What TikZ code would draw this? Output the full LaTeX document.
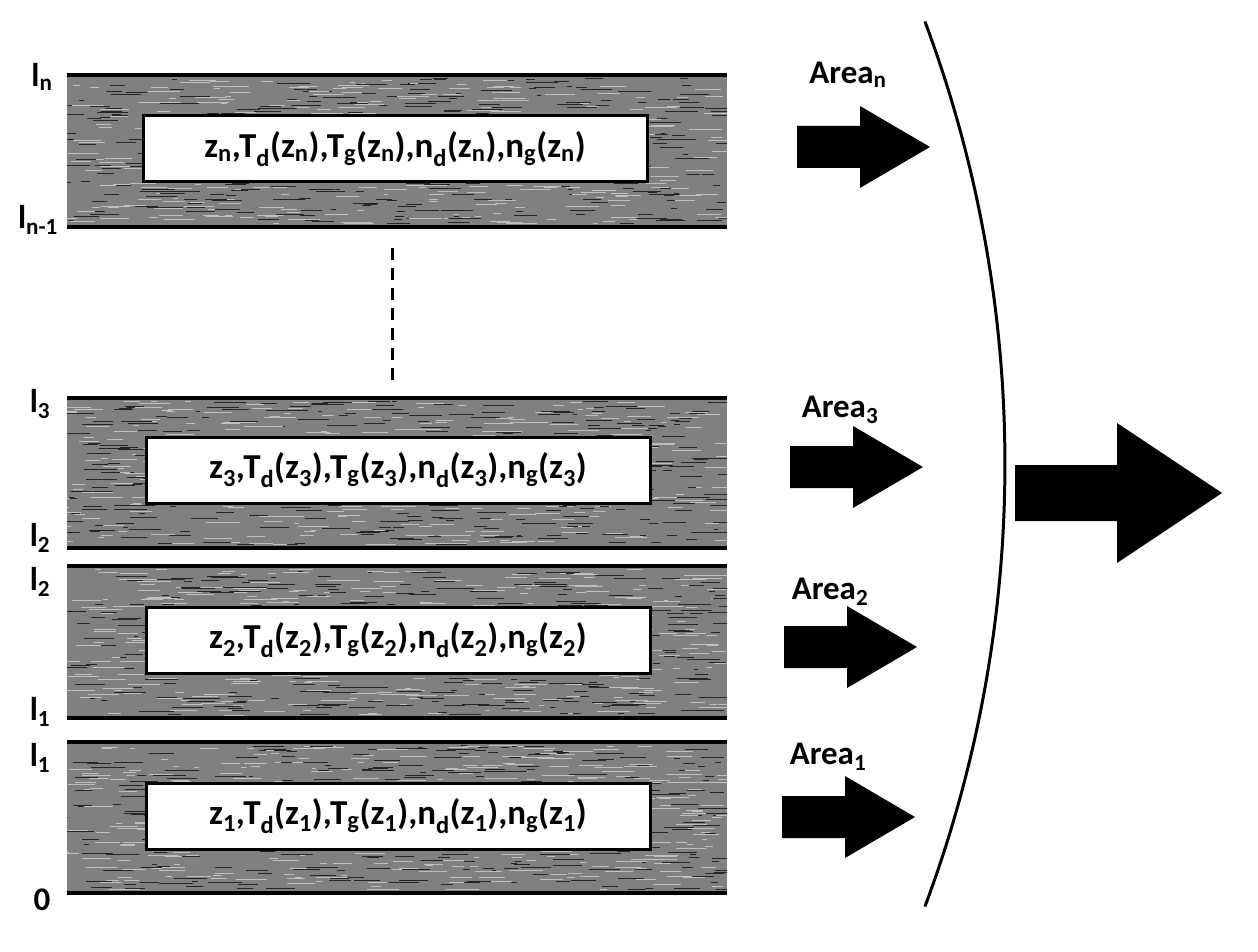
\documentclass[tikz,border=0pt]{standalone}
\usepackage{fontspec}
\setmainfont{Carlito}
\begin{document}
\begin{tikzpicture}[x=1pt,y=-1pt,
  lbl/.style={font=\bfseries\fontsize{33}{36}\selectfont,inner sep=0pt},
  boxtxt/.style={draw=black,line width=3pt,fill=white,minimum width=504pt,minimum height=66pt,font=\bfseries\fontsize{35}{38}\selectfont,inner sep=0pt},
  blockarrow/.style={fill=black,draw=none}]
\useasboundingbox (0,0) rectangle (1258,952);
\pgfmathsetseed{7}
% bands
\foreach \t/\b in {75/227,398/548,566/718,742/893}{
  \begin{scope}
  \clip (67,\t) rectangle (727,\b);
  \fill[black!50] (67,\t) rectangle (727,\b);
  \foreach \i in {1,...,700}{
    \pgfmathsetmacro{\xx}{60+rnd*660}
    \pgfmathsetmacro{\yy}{\t+3+rnd*(\b-\t-6)}
    \pgfmathsetmacro{\ll}{4+rnd*30}
    \pgfmathsetmacro{\cc}{rnd>0.5 ? 85 : 25}
    \draw[black!\cc,line width=1pt] (\xx,\yy) -- ++(\ll,0);
  }
  \end{scope}
  \draw[line width=4pt] (67,\t) -- (727,\t);
  \draw[line width=4pt] (67,\b) -- (727,\b);
}
% text boxes
\node[boxtxt] (tn) at (395,149) {z\textsubscript{n},T\textsubscript{d}(z\textsubscript{n}),T\textsubscript{g}(z\textsubscript{n}),n\textsubscript{d}(z\textsubscript{n}),n\textsubscript{g}(z\textsubscript{n})};
\node[boxtxt] (t3) at (398,470) {z\textsubscript{3},T\textsubscript{d}(z\textsubscript{3}),T\textsubscript{g}(z\textsubscript{3}),n\textsubscript{d}(z\textsubscript{3}),n\textsubscript{g}(z\textsubscript{3})};
\node[boxtxt] (t2) at (398,640) {z\textsubscript{2},T\textsubscript{d}(z\textsubscript{2}),T\textsubscript{g}(z\textsubscript{2}),n\textsubscript{d}(z\textsubscript{2}),n\textsubscript{g}(z\textsubscript{2})};
\node[boxtxt] (t1) at (398,816) {z\textsubscript{1},T\textsubscript{d}(z\textsubscript{1}),T\textsubscript{g}(z\textsubscript{1}),n\textsubscript{d}(z\textsubscript{1}),n\textsubscript{g}(z\textsubscript{1})};
% left labels
\node[lbl] (ln) at (42,77) {l\textsubscript{n}};
\node[lbl] (lm) at (38,220) {l\textsubscript{n-1}};
\node[lbl] (l3a) at (40,404) {l\textsubscript{3}};
\node[lbl] (l2a) at (40,538) {l\textsubscript{2}};
\node[lbl] (l2b) at (40,582) {l\textsubscript{2}};
\node[lbl] (l1a) at (40,712) {l\textsubscript{1}};
\node[lbl] (l1b) at (40,758) {l\textsubscript{1}};
\node[lbl] (l0) at (42,900) {0};
% dashed
\coordinate (da) at (392,248);
\coordinate (db) at (392,386);
\draw[line width=3pt,dash pattern=on 12pt off 8pt] (da) -- (db);
% area labels
\node[lbl] (an) at (848,75) {Area\textsubscript{n}};
\node[lbl] (a3) at (840,410) {Area\textsubscript{3}};
\node[lbl] (a2) at (830,592) {Area\textsubscript{2}};
\node[lbl] (a1) at (828,757) {Area\textsubscript{1}};
% block arrows
\foreach \x/\y in {797/147,790/467,784/647,782/817}{
  \fill[blockarrow] (\x,\y-21) -- (\x+63,\y-21) -- (\x+63,\y-41) -- (\x+133,\y) -- (\x+63,\y+41) -- (\x+63,\y+21) -- (\x,\y+21) -- cycle;
}
\fill[blockarrow] (1015,465) -- (1117,465) -- (1117,423) -- (1222,493) -- (1117,563) -- (1117,521) -- (1015,521) -- cycle;
% arc
\coordinate (arcC) at (-258.8,464);
\draw[line width=3pt] (arcC) ++(-20.5:1263.8) arc[start angle=-20.5,end angle=20.5,radius=1263.8];
\end{tikzpicture}
\end{document}
